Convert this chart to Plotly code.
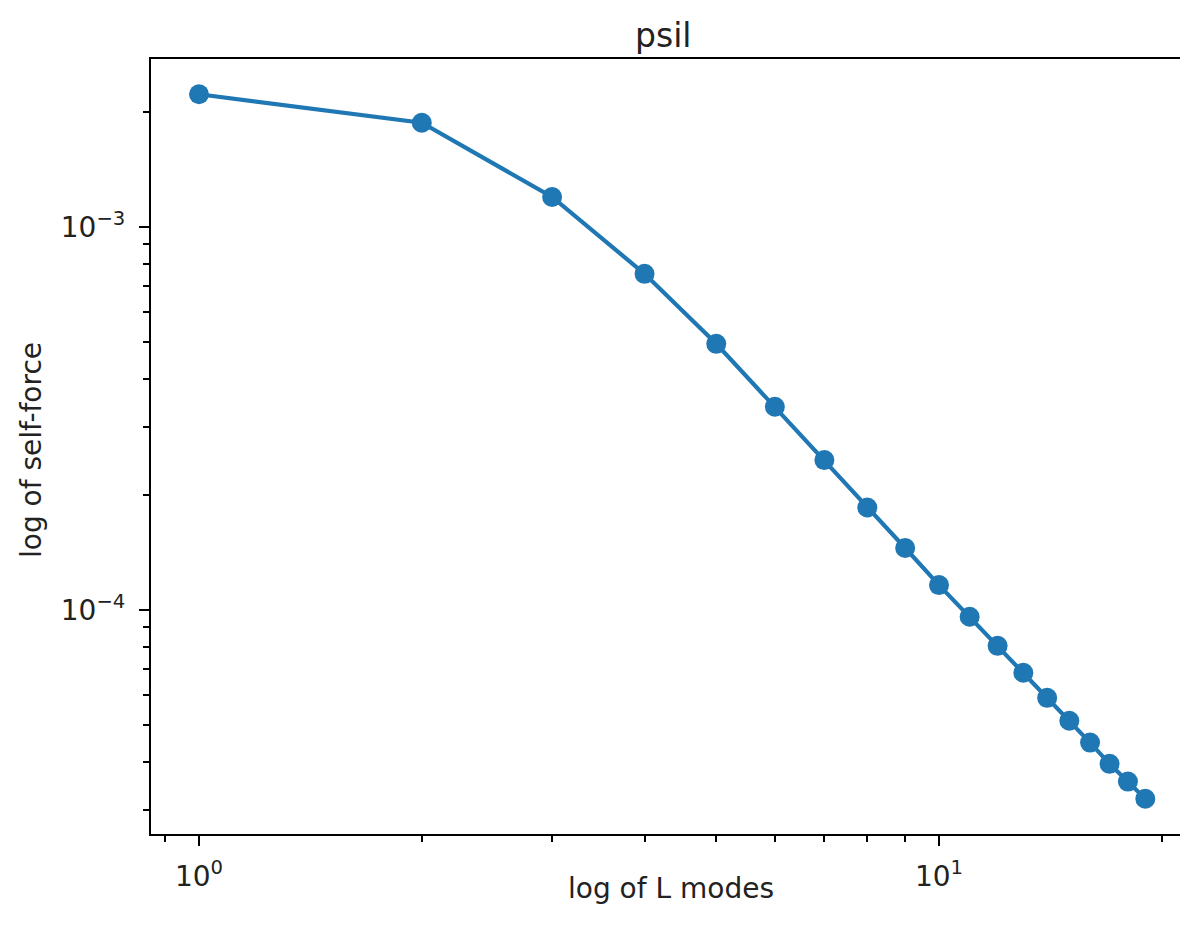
import plotly.graph_objects as go

# Data
L_modes = [1, 2, 3, 4, 5, 6, 7, 8, 9, 10, 11, 12, 13, 14, 15, 16, 17, 18, 19]
self_force = [2.22e-3, 1.87e-3, 1.197e-3, 7.54e-4, 4.95e-4, 3.39e-4, 2.46e-4,
              1.85e-4, 1.45e-4, 1.16e-4, 9.59e-5, 8.05e-5, 6.85e-5, 5.89e-5,
              5.13e-5, 4.50e-5, 3.96e-5, 3.56e-5, 3.21e-5]

x_major = [1, 10]
x_major_text = ["10<sup>0</sup>", "10<sup>1</sup>"]
x_minor = [0.9, 2, 3, 4, 5, 6, 7, 8, 9, 20]
y_major = [1e-4, 1e-3]
y_major_text = ["10<sup>\u22124</sup>", "10<sup>\u22123</sup>"]
y_minor = [3e-5, 4e-5, 5e-5, 6e-5, 7e-5, 8e-5, 9e-5,
           2e-4, 3e-4, 4e-4, 5e-4, 6e-4, 7e-4, 8e-4, 9e-4, 2e-3]

title_text = "psil"
xlabel = "log of L modes"
ylabel = "log of self-force"

color = "#1f77b4"
font = "DejaVu Sans"
W, H = 1180, 938
ml, mr, mt, mb = 151, 0, 59, 104

fig = go.Figure()
fig.add_trace(go.Scatter(
    x=L_modes, y=self_force, mode="lines+markers",
    line=dict(color=color, width=4.2),
    marker=dict(color=color, size=20, line=dict(width=0)),
    showlegend=False, hoverinfo="skip",
))

xl = -0.0649
px_per_dec_x = 740.0
xr = xl + (W - ml - mr) / px_per_dec_x
yb, yt = -4.5855, -2.5616

axis_common = dict(
    showgrid=False, zeroline=False, showline=True, linecolor="black",
    linewidth=2.2, ticks="outside", tickcolor="black", tickwidth=2.2,
    ticklen=10, tickfont=dict(family=font, size=28, color="#222222"),
)

fig.update_xaxes(type="log", range=[xl, xr], tickmode="array",
                 tickvals=x_major, ticktext=x_major_text, mirror=True,
                 minor=dict(tickvals=x_minor, ticks="outside", ticklen=6,
                            tickwidth=2.0, tickcolor="black", showgrid=False),
                 ticklabelstandoff=6,
                 **axis_common)
fig.update_yaxes(type="log", range=[yb, yt], tickmode="array",
                 tickvals=y_major, ticktext=y_major_text, mirror=False,
                 minor=dict(tickvals=y_minor, ticks="outside", ticklen=6,
                            tickwidth=2.0, tickcolor="black", showgrid=False),
                 ticklabelstandoff=8,
                 **axis_common)

fig.update_layout(
    width=W, height=H,
    margin=dict(l=ml, r=mr, t=mt, b=mb, pad=0),
    paper_bgcolor="white", plot_bgcolor="white",
    font=dict(family=font, color="#222222"),
    annotations=[
        dict(text=title_text, xref="paper", yref="paper", x=(663 - ml) / (W - ml - mr),
             y=1, yshift=24, xanchor="center", yanchor="middle",
             showarrow=False, font=dict(family=font, size=33, color="#222222")),
        dict(text=xlabel, xref="paper", yref="paper", x=(671 - ml) / (W - ml - mr),
             y=0, yshift=-(888 - (H - mb)), xanchor="center", yanchor="middle",
             showarrow=False, font=dict(family=font, size=28, color="#222222")),
        dict(text=ylabel, xref="paper", yref="paper", x=0, xshift=-(ml - 31),
             y=(H - mb - 450) / (H - mt - mb), xanchor="center", yanchor="middle",
             textangle=-90, showarrow=False,
             font=dict(family=font, size=28, color="#222222")),
    ],
)

fig.write_html("out.html", config={"displayModeBar": False},
               post_script="document.body.style.margin='0';document.body.style.overflow='hidden';")
